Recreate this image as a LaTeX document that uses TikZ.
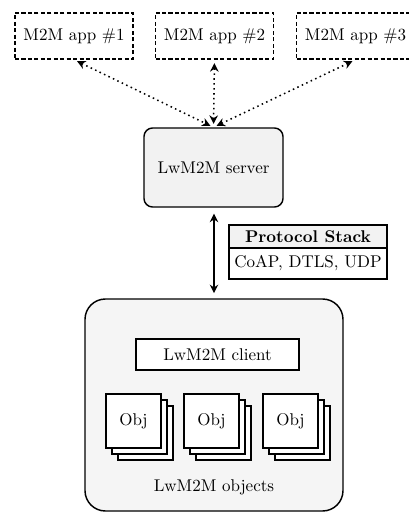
\documentclass[tikz,border=0pt]{standalone}
\usetikzlibrary{arrows.meta}
\newcommand\pxu{0.588pt}
\begin{document}
\begin{tikzpicture}[x=0.588pt,y=-0.588pt,
  box/.style={draw,line width=0.85pt,inner sep=0pt,font=\normalsize},
  appbox/.style={box,dash pattern=on 2.4pt off 1.4pt,minimum width=118*\pxu,minimum height=46*\pxu},
  dotarrow/.style={line width=0.9pt,dotted,{Stealth[length=5pt,width=5pt]}-{Stealth[length=5pt,width=5pt]},shorten <=2pt,shorten >=2pt},
  solidarrow/.style={line width=0.8pt,{Stealth[length=5pt,width=5pt]}-{Stealth[length=5pt,width=5pt]},shorten <=3.5pt,shorten >=3pt},
  objsq/.style={box,fill=white,minimum width=55*\pxu,minimum height=54*\pxu}
]
\useasboundingbox (0,0) rectangle (408,515);

% application boxes
\node[appbox] (app1) at (74,36) {M2M app $\#1$};
\node[appbox] (app2) at (214.5,36) {M2M app $\#2$};
\node[appbox] (app3) at (355.5,36) {M2M app $\#3$};

% server
\node[box,fill=gray!10,rounded corners=5pt,minimum width=139*\pxu,minimum height=79*\pxu] (server) at (213.5,167.5) {LwM2M server};

\draw[dotarrow] (app1.south) -- (server.north);
\draw[dotarrow] (app2.south) -- (server.north);
\draw[dotarrow] (app3.south) -- (server.north);

% protocol stack table
\node[box,fill=gray!10,minimum width=158*\pxu,minimum height=23*\pxu,font=\bfseries] (phead) at (308,236.5) {Protocol Stack};
\node[box,minimum width=158*\pxu,minimum height=31*\pxu] (pbody) at (308,263.5) {CoAP, DTLS, UDP};

% client device
\node[box,fill=gray!8,rounded corners=12pt,minimum width=258*\pxu,minimum height=212*\pxu] (device) at (214,405) {};
\node[box,fill=white,minimum width=163*\pxu,minimum height=31*\pxu] (client) at (217.5,354.5) {LwM2M client};

\draw[solidarrow] (server.south -| device.north) -- (device.north);

% object stacks
\foreach \cx/\n in {133.5/o1,211.5/o2,290.5/o3}{
  \node[objsq] (\n c) at (\cx+12,433) {};
  \node[objsq] (\n b) at (\cx+6,427) {};
  \node[objsq] (\n) at (\cx,421) {Obj};
}

\node (objlabel) at (214,487) {LwM2M objects};
\end{tikzpicture}
\end{document}
